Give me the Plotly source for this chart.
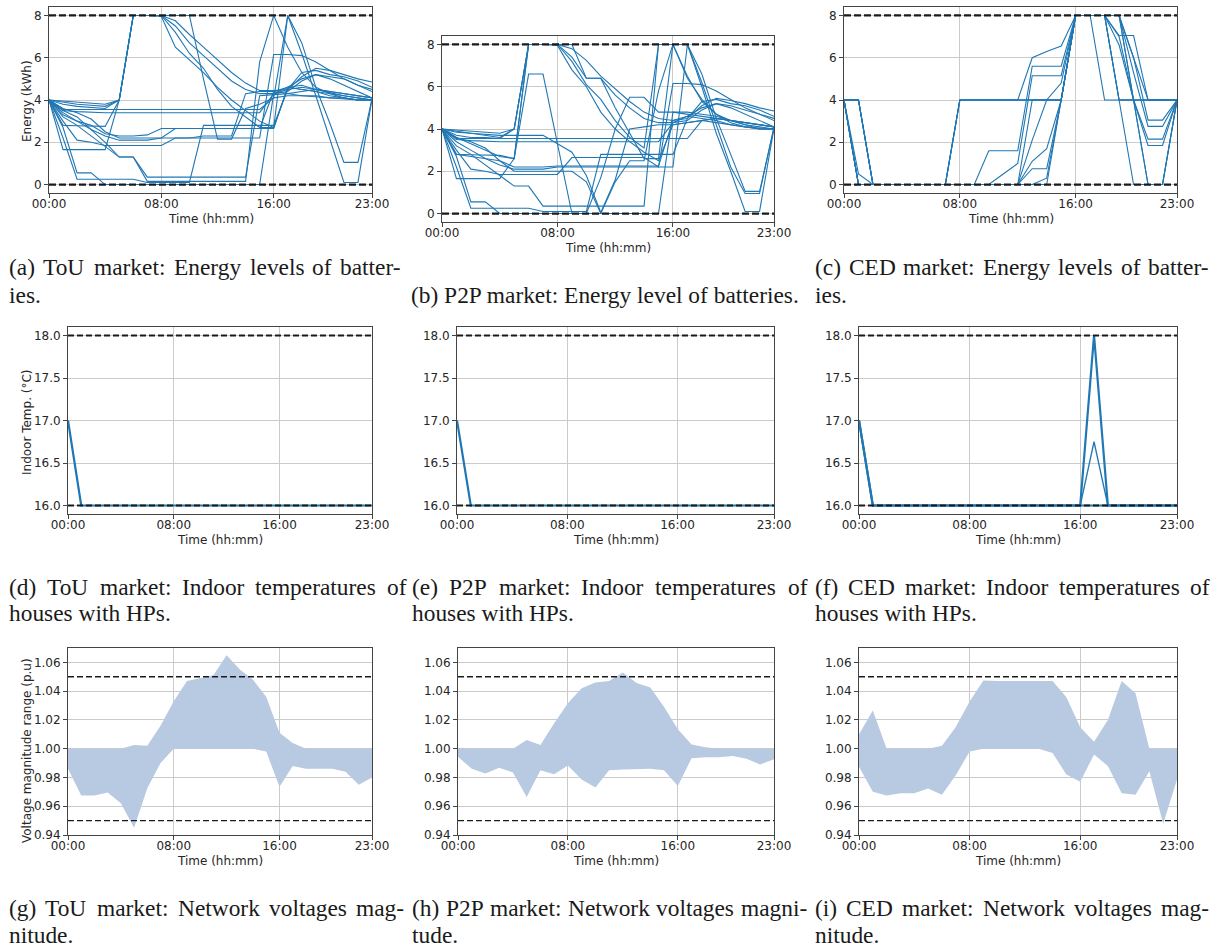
import plotly.graph_objects as go

W, H = 1217, 952
HOURS = [0, 1, 2, 3, 4, 5, 6, 7, 8, 9, 10, 11, 12, 13, 14, 15, 16, 17, 18, 19, 20, 21, 22, 23]
TICK_VALS = [0, 8, 16, 23]
TICK_TEXT = ['00:00', '08:00', '16:00', '23:00']

BATT_LIMITS = [0, 8]
TEMP_LIMITS = [16, 18]
VOLT_LIMITS = [0.95, 1.05]

# ---- (a) ToU battery energy (kWh), one list per battery, hourly 00:00..23:00
tou_batt = [
    [4, 3.95, 3.9, 3.85, 3.8, 4, 8, 8, 8, 7.75, 7.1, 6.5, 5.9, 5.3, 4.8, 4.45, 4.45, 4.5, 5.1, 5.5, 5.4, 5.2, 5.0, 4.85],
    [4, 3.9, 3.8, 3.75, 3.7, 4, 8, 8, 8, 7.5, 6.7, 6.1, 5.5, 4.9, 4.5, 4.3, 4.3, 4.4, 4.9, 5.2, 5.1, 5.0, 4.7, 4.5],
    [4, 3.8, 3.7, 3.65, 3.6, 4, 8, 8, 7.95, 6.5, 5.9, 5.3, 4.6, 4.0, 3.5, 3.0, 2.7, 4.6, 4.7, 4.5, 4.35, 4.2, 4.1, 4.0],
    [4, 2.8, 2.78, 2.76, 2.75, 4, 8, 8, 8, 7.2, 6.2, 5.5, 4.5, 3.7, 3.2, 2.7, 2.7, 8, 6.7, 4.6, 2.9, 1.05, 1.05, 4.05],
    [4, 1.65, 1.65, 1.65, 1.65, 4, 8, 8, 8, 8, 8, 5.0, 2.15, 2.15, 3.6, 3.8, 4.1, 8, 6.2, 4.2, 2.2, 0.1, 0.1, 4.05],
    [4, 3.55, 3.55, 3.55, 3.55, 3.55, 3.55, 3.55, 3.55, 3.55, 3.55, 3.55, 3.55, 3.55, 3.55, 3.55, 4.1, 4.2, 4.2, 4.15, 4.1, 4.05, 4.0, 4.0],
    [4, 3.5, 3.45, 3.42, 3.4, 3.4, 3.4, 3.4, 3.4, 3.4, 3.4, 3.4, 3.4, 3.4, 3.4, 3.4, 4.3, 4.6, 5.0, 5.2, 5.0, 4.7, 4.4, 4.1],
    [4, 3.3, 3.0, 2.8, 2.4, 2.3, 2.3, 2.35, 2.65, 2.65, 2.65, 2.65, 2.65, 2.65, 2.65, 2.65, 2.65, 4.6, 4.5, 4.4, 4.3, 4.2, 4.1, 4.0],
    [4, 3.4, 3.0, 2.6, 2.3, 2.1, 2.1, 2.1, 2.2, 2.2, 2.2, 2.2, 2.2, 2.2, 2.2, 2.2, 6.15, 6.15, 6.1, 5.8, 5.4, 5.0, 4.7, 4.4],
    [4, 3.0, 2.1, 2.0, 1.85, 1.85, 1.85, 1.85, 1.85, 2.2, 2.2, 2.3, 2.3, 2.3, 4.3, 4.4, 4.4, 4.3, 4.2, 4.2, 4.1, 4.1, 4.0, 4.0],
    [4, 3.2, 2.8, 2.3, 1.8, 1.3, 1.3, 0.35, 0.35, 0.35, 0.35, 0.35, 0.35, 0.35, 0.35, 4.2, 4.25, 4.3, 4.4, 4.5, 4.4, 4.3, 4.2, 4.1],
    [4, 2.7, 0.55, 0.55, 0, 0, 0, 0, 0, 0, 0, 0, 0, 0, 0, 0, 4.3, 4.5, 4.6, 4.5, 4.4, 4.3, 4.2, 4.1],
    [4, 2.2, 0.25, 0.25, 0.25, 0.25, 0.25, 0.1, 0.1, 0.1, 0.1, 2.8, 2.8, 2.8, 2.8, 2.8, 2.8, 4.5, 5.3, 5.4, 5.2, 5.1, 4.9, 4.6],
    [4, 3.6, 3.4, 3.1, 2.5, 2.2, 2.2, 2.2, 2.2, 2.65, 2.65, 2.65, 2.65, 2.65, 2.65, 2.65, 4.4, 4.6, 4.5, 4.4, 4.2, 4.1, 4.0, 4.0],
    [4, 3.5, 3.2, 2.6, 2.0, 1.3, 1.3, 0.15, 0.15, 0.15, 0.15, 0.15, 0.15, 0.15, 0.15, 5.8, 8, 6.5, 5.3, 4.6, 4.3, 4.1, 4.0, 4.0],
]

# ---- (b) P2P battery energy (kWh)
p2p_batt = [
    [4, 3.95, 3.9, 3.85, 3.8, 4, 8, 8, 8, 7.8, 7.25, 6.5, 5.9, 5.3, 4.8, 4.5, 4.4, 4.5, 5.1, 5.45, 5.35, 5.2, 5.0, 4.85],
    [4, 3.9, 3.8, 3.7, 3.6, 4, 8, 8, 8, 7.4, 6.4, 6.4, 5.6, 5.0, 4.5, 4.3, 4.3, 4.4, 4.9, 5.2, 5.1, 4.9, 4.7, 4.5],
    [4, 3.7, 3.6, 3.6, 3.55, 4, 8, 8, 7.95, 6.8, 6.0, 4.8, 4.0, 3.4, 2.9, 2.5, 4.2, 4.3, 4.4, 4.3, 4.2, 4.1, 4.05, 4.0],
    [4, 2.8, 2.78, 2.76, 2.75, 2.6, 8, 8, 8, 7.2, 6.1, 5.4, 4.4, 3.6, 3.1, 8, 8, 8, 6.6, 4.5, 2.8, 1.05, 1.05, 4.05],
    [4, 3.6, 3.3, 3.0, 2.7, 2.6, 6.6, 6.6, 3.3, 0, 0, 1.7, 4.0, 5.5, 5.5, 4.8, 4.8, 4.7, 4.6, 4.5, 4.4, 4.3, 4.2, 4.1],
    [4, 3.55, 3.55, 3.55, 3.55, 3.55, 3.55, 3.55, 3.55, 3.55, 3.55, 3.55, 3.55, 3.55, 3.55, 3.55, 3.55, 3.55, 4.4, 4.5, 4.4, 4.3, 4.2, 4.1],
    [4, 3.5, 3.45, 3.42, 3.4, 3.4, 3.4, 3.4, 3.4, 3.4, 3.4, 3.4, 3.4, 3.4, 3.4, 3.4, 4.3, 4.6, 5.0, 5.2, 5.0, 4.7, 4.4, 4.1],
    [4, 3.85, 3.8, 3.75, 3.7, 3.7, 3.7, 3.7, 3.3, 2.9, 1.8, 0.05, 1.6, 4.0, 4.1, 4.2, 4.2, 4.3, 4.4, 4.5, 4.4, 4.3, 4.2, 4.1],
    [4, 3.4, 3.0, 2.6, 2.3, 2.1, 2.1, 2.1, 2.2, 2.2, 2.2, 2.2, 2.2, 2.2, 2.2, 2.2, 6.15, 6.15, 6.1, 5.8, 5.4, 5.0, 4.7, 4.4],
    [4, 3.0, 2.1, 2.0, 1.85, 1.85, 1.85, 1.85, 1.85, 2.65, 2.65, 2.65, 2.65, 2.65, 2.65, 2.2, 2.2, 8, 6.2, 4.2, 2.2, 0.95, 0.95, 4.1],
    [4, 3.2, 2.8, 2.3, 1.8, 1.3, 1.3, 0.35, 0.35, 0.35, 0.35, 0.35, 0.35, 0.35, 0.35, 8, 8, 6.4, 5.4, 4.7, 4.3, 4.1, 4.0, 4.0],
    [4, 2.7, 0.55, 0.55, 0, 0, 0, 0, 0, 0, 0, 0, 0, 0, 0, 0, 4.8, 4.8, 4.7, 4.6, 4.4, 4.2, 4.1, 4.0],
    [4, 2.2, 0.25, 0.25, 0.25, 0.25, 0.25, 0.1, 0.1, 0.1, 0.1, 2.8, 2.8, 2.8, 2.8, 2.8, 2.8, 4.5, 5.3, 5.4, 5.2, 5.1, 4.9, 4.6],
    [4, 3.6, 3.4, 3.1, 2.5, 2.2, 2.2, 2.2, 2.25, 2.25, 2.25, 2.25, 2.25, 2.25, 2.25, 2.25, 4.4, 4.6, 4.5, 4.4, 4.2, 4.1, 4.0, 4.0],
    [4, 1.65, 1.65, 1.65, 1.65, 2.6, 8, 8, 8, 8, 6.4, 6.4, 5.0, 3.8, 2.6, 2.6, 8, 8, 6.0, 3.8, 2.0, 0.1, 0.1, 4.05],
    [4, 2.8, 2.7, 2.6, 2.5, 2.0, 2.0, 2.0, 2.0, 2.0, 1.5, 0, 1.5, 2.5, 2.5, 5.8, 8, 6.5, 5.3, 4.7, 4.4, 4.2, 4.0, 4.0],
]

# ---- (c) CED battery energy (kWh)
ced_batt = [
    [4, 4, 0, 0, 0, 0, 0, 0, 4, 4, 4, 4, 4, 4, 4, 4, 8, 8, 8, 4, 4, 4, 4, 4],
    [4, 0, 0, 0, 0, 0, 0, 0, 4, 4, 4, 4, 4, 6.0, 6.3, 6.55, 8, 8, 8, 7.05, 7.05, 4.0, 4.0, 4.0],
    [4, 0.5, 0, 0, 0, 0, 0, 0, 0, 0, 1.6, 1.6, 1.6, 5.6, 5.6, 5.6, 8, 8, 8, 8, 6.0, 3.05, 3.05, 4.0],
    [4, 4, 0, 0, 0, 0, 0, 0, 0, 0, 0, 0.5, 1.0, 5.15, 5.15, 5.15, 8, 8, 8, 8, 5.3, 2.75, 2.75, 4.0],
    [4, 0, 0, 0, 0, 0, 0, 0, 0, 0, 0, 0, 0, 2.1, 4.0, 4.8, 8, 8, 8, 6.6, 4.0, 2.15, 2.15, 4.0],
    [4, 4, 0, 0, 0, 0, 0, 0, 0, 0, 0, 0, 0, 1.1, 1.7, 4.0, 8, 8, 8, 7.0, 4.0, 1.85, 1.85, 4.0],
    [4, 0, 0, 0, 0, 0, 0, 0, 0, 0, 0, 0, 0, 0.75, 0.75, 4.0, 8, 8, 8, 4.0, 4.0, 0, 0, 4.0],
    [4, 4, 0, 0, 0, 0, 0, 0, 0, 0, 0, 0, 0, 0, 0.3, 4.0, 8, 8, 4.0, 4.0, 4.0, 4.0, 4.0, 4.0],
    [4, 0, 0, 0, 0, 0, 0, 0, 4, 4, 4, 4, 4, 4, 4, 4, 8, 8, 8, 4.0, 0, 0, 0, 4.0],
    [4, 4, 0, 0, 0, 0, 0, 0, 0, 0, 0, 0, 0, 0, 0, 4.0, 8, 8, 8, 8, 4.0, 0, 0, 4.0],
    [4, 0, 0, 0, 0, 0, 0, 0, 4, 4, 4, 4, 4, 4, 4, 4, 8, 8, 8, 8, 4, 4, 4, 4],
    [4, 0, 0, 0, 0, 0, 0, 0, 0, 0, 0, 0, 0, 4.0, 4.0, 4.0, 8, 8, 8, 8, 6.0, 4.0, 4.0, 4.0],
]

# ---- Indoor temperatures (degC) of houses with heat pumps
tou_temp = [
    [17.0, 16.0, 16.0, 16.0, 16.0, 16.0, 16.0, 16.0, 16.0, 16.0, 16.0, 16.0, 16.0, 16.0, 16.0, 16.0, 16.0, 16.0, 16.0, 16.0, 16.0, 16.0, 16.0, 16.0],
]
p2p_temp = [
    [17.0, 16.0, 16.0, 16.0, 16.0, 16.0, 16.0, 16.0, 16.0, 16.0, 16.0, 16.0, 16.0, 16.0, 16.0, 16.0, 16.0, 16.0, 16.0, 16.0, 16.0, 16.0, 16.0, 16.0],
]
ced_temp = [
    [17.0, 16.0, 16.0, 16.0, 16.0, 16.0, 16.0, 16.0, 16.0, 16.0, 16.0, 16.0, 16.0, 16.0, 16.0, 16.0, 16.0, 16.0, 16.0, 16.0, 16.0, 16.0, 16.0, 16.0],
    [17.0, 16.0, 16.0, 16.0, 16.0, 16.0, 16.0, 16.0, 16.0, 16.0, 16.0, 16.0, 16.0, 16.0, 16.0, 16.0, 16.0, 16.75, 16.0, 16.0, 16.0, 16.0, 16.0, 16.0],
    [17.0, 16.0, 16.0, 16.0, 16.0, 16.0, 16.0, 16.0, 16.0, 16.0, 16.0, 16.0, 16.0, 16.0, 16.0, 16.0, 16.0, 18.0, 16.0, 16.0, 16.0, 16.0, 16.0, 16.0],
]

# ---- Network voltage magnitude range (p.u.): min / max over buses
tou_v_low = [0.986, 0.9675, 0.9675, 0.9695, 0.962, 0.945, 0.9725, 0.990, 1.000, 1.000, 1.000, 1.000, 1.000, 1.000, 1.000, 0.998, 0.9735, 0.988, 0.986, 0.986, 0.986, 0.984, 0.975, 0.980]
tou_v_high = [1.000, 1.000, 1.000, 1.000, 1.000, 1.0025, 1.002, 1.016, 1.033, 1.047, 1.049, 1.051, 1.065, 1.055, 1.048, 1.036, 1.011, 1.004, 1.000, 1.000, 1.000, 1.000, 1.000, 1.000]
p2p_v_low = [0.9944, 0.986, 0.9828, 0.9867, 0.9835, 0.9665, 0.985, 0.9823, 0.9884, 0.9786, 0.973, 0.985, 0.9855, 0.986, 0.986, 0.985, 0.974, 0.9933, 0.994, 0.994, 0.995, 0.993, 0.989, 0.9926]
p2p_v_high = [1.000, 1.000, 1.000, 1.000, 1.000, 1.006, 1.0026, 1.0177, 1.0316, 1.042, 1.046, 1.047, 1.053, 1.0456, 1.0426, 1.029, 1.0135, 1.003, 1.001, 1.000, 1.000, 1.000, 1.000, 1.000]
ced_v_low = [0.9874, 0.970, 0.9674, 0.969, 0.969, 0.9723, 0.968, 0.9816, 0.998, 1.000, 1.000, 1.000, 1.000, 1.000, 0.997, 0.982, 0.977, 0.996, 0.988, 0.969, 0.968, 0.9844, 0.9479, 0.9786]
ced_v_high = [1.010, 1.0265, 1.000, 1.000, 1.000, 1.000, 1.002, 1.015, 1.0328, 1.0474, 1.047, 1.047, 1.047, 1.047, 1.047, 1.0358, 1.0149, 1.0049, 1.020, 1.047, 1.0386, 1.000, 1.000, 1.000]

# ---- captions
cap_a = ["(a) ToU market: Energy levels of batter-", "ies."]
cap_b = ["(b) P2P market: Energy level of batteries."]
cap_c = ["(c) CED market: Energy levels of batter-", "ies."]
cap_d = ["(d) ToU market: Indoor temperatures of", "houses with HPs."]
cap_e = ["(e) P2P market: Indoor temperatures of", "houses with HPs."]
cap_f = ["(f) CED market: Indoor temperatures of", "houses with HPs."]
cap_g = ["(g) ToU market: Network voltages mag-", "nitude."]
cap_h = ["(h) P2P market: Network voltages magni-", "tude."]
cap_i = ["(i) CED market: Network voltages mag-", "nitude."]

# ------------------------------------------------------------------ layout
BLUE = '#1f77b4'
FILL = '#b8c9e2'
GRID = '#cbcbcb'
SPINE = '#444444'
TICKFONT = dict(family='DejaVu Sans', size=12, color='#262626')
CAPFONT_FAMILY = 'Liberation Serif'
CAP_SIZE = 23.4

# panel boxes in pixels: left, right, top, bottom
panels = [
    ('a', (49, 372, 7, 193), 'batt', tou_batt),
    ('b', (442, 774, 36, 222), 'batt', p2p_batt),
    ('c', (844, 1177, 7, 193), 'batt', ced_batt),
    ('d', (68, 372, 327, 514), 'temp', tou_temp),
    ('e', (457, 774, 327, 514), 'temp', p2p_temp),
    ('f', (859, 1177, 327, 514), 'temp', ced_temp),
    ('g', (68, 372, 648, 835), 'volt', (tou_v_low, tou_v_high)),
    ('h', (458, 774, 648, 835), 'volt', (p2p_v_low, p2p_v_high)),
    ('i', (859, 1177, 648, 835), 'volt', (ced_v_low, ced_v_high)),
]

fig = go.Figure()
layout = dict(width=W, height=H, margin=dict(l=0, r=0, t=0, b=0, pad=0, autoexpand=False),
              autosize=False, paper_bgcolor='white', plot_bgcolor='white', showlegend=False)
annotations = []

for idx, (key, (l, r, t, b), kind, data) in enumerate(panels, start=1):
    xa = 'x' if idx == 1 else f'x{idx}'
    ya = 'y' if idx == 1 else f'y{idx}'
    xname = 'xaxis' if idx == 1 else f'xaxis{idx}'
    yname = 'yaxis' if idx == 1 else f'yaxis{idx}'
    common = dict(showgrid=True, gridcolor=GRID, gridwidth=1, showline=True, mirror=True,
                  linecolor=SPINE, linewidth=1, ticks='outside', ticklen=4, tickwidth=1,
                  tickcolor=SPINE, tickfont=TICKFONT, zeroline=False, fixedrange=True,
                  automargin=False)
    layout[xname] = dict(common, domain=[l / W, r / W], anchor=ya, range=[0, 23],
                         tickmode='array', tickvals=TICK_VALS, ticktext=TICK_TEXT,
                         ticklabelstandoff=-4)
    ydom = [1 - b / H, 1 - t / H]
    if kind == 'batt':
        layout[yname] = dict(common, domain=ydom, anchor=xa, range=[-0.4, 8.4],
                             tickmode='array', tickvals=[0, 2, 4, 6, 8])
        for s in data:
            fig.add_trace(go.Scatter(x=HOURS, y=s, mode='lines', xaxis=xa, yaxis=ya,
                                     line=dict(color=BLUE, width=1.1), hoverinfo='skip'))
        for lim in BATT_LIMITS:
            fig.add_trace(go.Scatter(x=[HOURS[0], HOURS[-1]], y=[lim, lim], mode='lines',
                                     xaxis=xa, yaxis=ya, hoverinfo='skip',
                                     line=dict(color='#1a1a1a', width=2.3, dash='7px,3px')))
    elif kind == 'temp':
        layout[yname] = dict(common, domain=ydom, anchor=xa, range=[15.9, 18.1],
                             tickmode='array', tickvals=[16, 16.5, 17, 17.5, 18], tickformat='.1f')
        for j, s in enumerate(data):
            fig.add_trace(go.Scatter(x=HOURS, y=s, mode='lines', xaxis=xa, yaxis=ya,
                                     line=dict(color=BLUE, width=1.3 if j == 1 else 2.2),
                                     hoverinfo='skip'))
        for lim in TEMP_LIMITS:
            fig.add_trace(go.Scatter(x=[HOURS[0], HOURS[-1]], y=[lim, lim], mode='lines',
                                     xaxis=xa, yaxis=ya, hoverinfo='skip',
                                     line=dict(color='#1a1a1a', width=1.8, dash='6px,3px')))
    else:
        low, high = data
        layout[yname] = dict(common, domain=ydom, anchor=xa, range=[0.94, 1.07],
                             tickmode='array', tickvals=[0.94, 0.96, 0.98, 1.00, 1.02, 1.04, 1.06],
                             tickformat='.2f')
        fig.add_trace(go.Scatter(x=HOURS, y=low, mode='lines', xaxis=xa, yaxis=ya,
                                 line=dict(width=0, color=FILL), hoverinfo='skip'))
        fig.add_trace(go.Scatter(x=HOURS, y=high, mode='lines', xaxis=xa, yaxis=ya,
                                 line=dict(width=0, color=FILL), fill='tonexty',
                                 fillcolor=FILL, hoverinfo='skip'))
        for lim in VOLT_LIMITS:
            fig.add_trace(go.Scatter(x=[HOURS[0], HOURS[-1]], y=[lim, lim], mode='lines',
                                     xaxis=xa, yaxis=ya, hoverinfo='skip',
                                     line=dict(color='#1a1a1a', width=1.4, dash='6px,3px')))
    # x-axis title
    annotations.append(dict(text='Time (hh:mm)', x=(l + r) / 2 / W, y=1 - (b + 26) / H,
                            xref='paper', yref='paper', xanchor='center', yanchor='middle',
                            showarrow=False, font=TICKFONT, borderpad=0))

# y-axis titles (left column only)
for txt, yc in [('Energy (kWh)', 101), ('Indoor Temp. (°C)', 422), ('Voltage magnitude range (p.u)', 751)]:
    annotations.append(dict(text=txt, x=27 / W, y=1 - yc / H, xref='paper', yref='paper',
                            xanchor='center', yanchor='middle', textangle=-90, showarrow=False,
                            font=TICKFONT, borderpad=0))

# Times (Liberation Serif) advance widths, per 1000 em
TIMES_W = {' ': 250, '(': 333, ')': 333, '-': 333, '.': 250, ':': 278, ',': 250,
           'a': 444, 'b': 500, 'c': 444, 'd': 500, 'e': 444, 'f': 333, 'g': 500, 'h': 500,
           'i': 278, 'j': 278, 'k': 500, 'l': 278, 'm': 778, 'n': 500, 'o': 500, 'p': 500,
           'q': 500, 'r': 333, 's': 389, 't': 278, 'u': 500, 'v': 500, 'w': 722, 'x': 500,
           'y': 500, 'z': 444, 'C': 667, 'D': 722, 'E': 611, 'H': 722, 'I': 333, 'N': 722,
           'P': 556, 'T': 611, 'U': 722, '2': 500}


def tw(s):
    return sum(TIMES_W.get(ch, 500) for ch in s) / 1000 * CAP_SIZE


def caption(lines, x0, x1, y1, y2):
    ys = [y1, y2]
    capfont = dict(family=CAPFONT_FAMILY, size=CAP_SIZE, color='#1a1a1a')
    for k, line in enumerate(lines):
        yc = ys[k]
        justify = (k < len(lines) - 1)
        if not justify:
            annotations.append(dict(text=line, x=x0 / W, y=1 - yc / H, xref='paper', yref='paper',
                                    xanchor='left', yanchor='middle', showarrow=False,
                                    font=capfont, borderpad=0))
        else:
            words = line.split(' ')
            widths = [tw(w) for w in words]
            gap = (x1 - x0 - sum(widths)) / (len(words) - 1)
            x = x0
            for w, wd in zip(words, widths):
                annotations.append(dict(text=w, x=x / W, y=1 - yc / H, xref='paper', yref='paper',
                                        xanchor='left', yanchor='middle', showarrow=False,
                                        font=capfont, borderpad=0))
                x += wd + gap


caption(cap_a, 8, 400, 267, 295)
caption(cap_b, 410, 806, 295, 295)
caption(cap_c, 814, 1208, 267, 295)
caption(cap_d, 8, 405, 587, 613)
caption(cap_e, 411, 806, 587, 613)
caption(cap_f, 814, 1208, 587, 613)
caption(cap_g, 8, 403, 908, 935)
caption(cap_h, 411, 806, 908, 935)
caption(cap_i, 814, 1208, 908, 935)

layout['annotations'] = annotations
fig.update_layout(**layout)
fig.write_html('out.html')
